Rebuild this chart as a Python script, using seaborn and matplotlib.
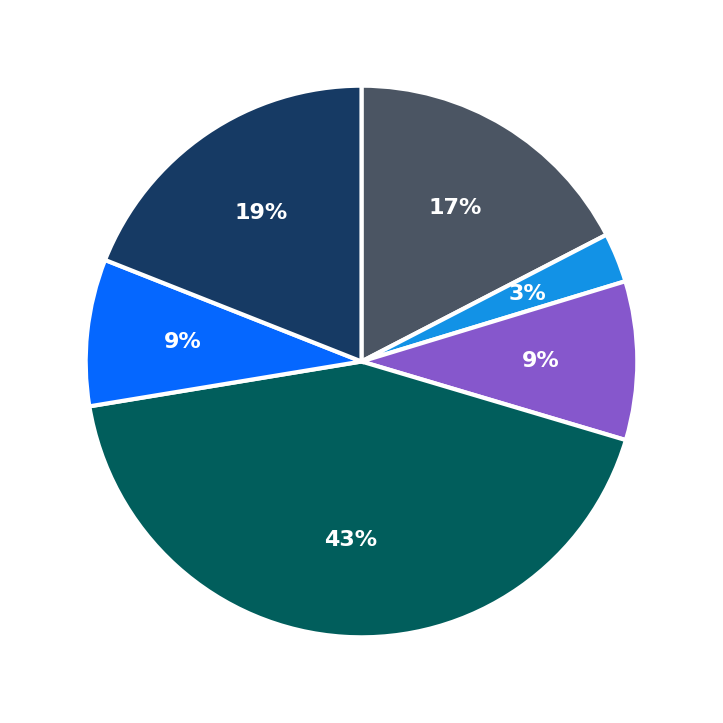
import matplotlib
matplotlib.use("Agg")
import matplotlib.pyplot as plt
import seaborn as sns

sns.set_theme(style="white")

# slice shares, clockwise from the top
shares = [17.4, 2.9, 9.3, 42.8, 8.6, 19.0]
colors = ["#4b5563", "#1292e6", "#8657cc", "#015e5c", "#0567ff", "#163a64"]

fig = plt.figure(figsize=(7.23, 7.23), dpi=100)
ax = fig.add_axes([0.1185, 0.1185, 0.763, 0.763])
ax.pie(
    shares,
    colors=colors,
    startangle=90,
    counterclock=False,
    autopct="%.0f%%",
    pctdistance=0.65,
    wedgeprops={"edgecolor": "white", "linewidth": 3},
    textprops={"color": "white", "fontsize": 16, "fontweight": "bold"},
)
ax.set_xlim(-1, 1)
ax.set_ylim(-1, 1)
ax.set_aspect("equal")
fig.savefig("out.png", dpi=100, facecolor="white")
